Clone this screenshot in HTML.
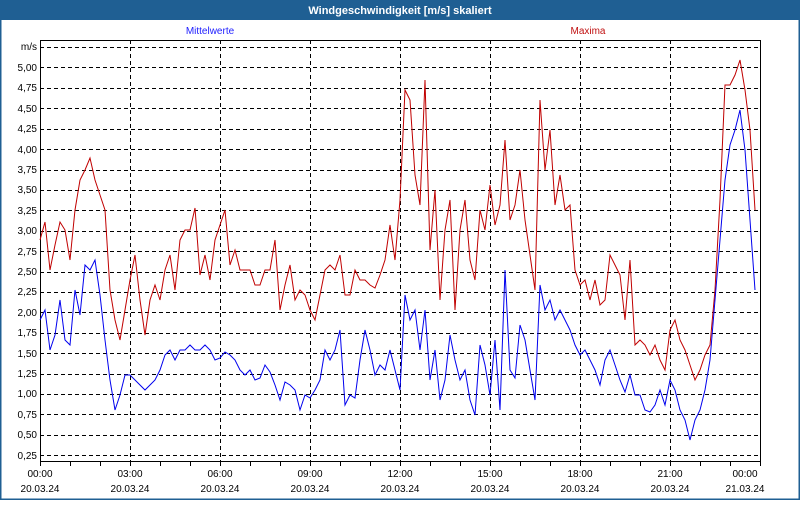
<!DOCTYPE html>
<html><head><meta charset="utf-8"><style>
body{margin:0;width:800px;height:500px;overflow:hidden;background:#fff;font-family:"Liberation Sans",sans-serif}
</style></head><body>
<svg width="800" height="500" xmlns="http://www.w3.org/2000/svg" font-family="Liberation Sans, sans-serif" font-size="10">
<rect x="0" y="0" width="800" height="500" fill="#fff"/>
<rect x="0.5" y="0.5" width="799" height="499" fill="none" stroke="#1f5f93" stroke-width="2"/>
<rect x="0" y="0" width="800" height="20" fill="#1f5f93"/>
<text x="400" y="14" fill="#fff" font-weight="bold" font-size="11" text-anchor="middle">Windgeschwindigkeit [m/s] skaliert</text>
<text x="210" y="34" fill="#2020ff" text-anchor="middle">Mittelwerte</text>
<text x="588" y="34" fill="#c01010" text-anchor="middle">Maxima</text>
<g stroke="#000" stroke-dasharray="4,3" stroke-width="1">
<line x1="40" x2="760" y1="47.5" y2="47.5"/><line x1="40" x2="760" y1="67.5" y2="67.5"/><line x1="40" x2="760" y1="88.5" y2="88.5"/><line x1="40" x2="760" y1="108.5" y2="108.5"/><line x1="40" x2="760" y1="129.5" y2="129.5"/><line x1="40" x2="760" y1="149.5" y2="149.5"/><line x1="40" x2="760" y1="170.5" y2="170.5"/><line x1="40" x2="760" y1="190.5" y2="190.5"/><line x1="40" x2="760" y1="210.5" y2="210.5"/><line x1="40" x2="760" y1="231.5" y2="231.5"/><line x1="40" x2="760" y1="251.5" y2="251.5"/><line x1="40" x2="760" y1="272.5" y2="272.5"/><line x1="40" x2="760" y1="292.5" y2="292.5"/><line x1="40" x2="760" y1="312.5" y2="312.5"/><line x1="40" x2="760" y1="333.5" y2="333.5"/><line x1="40" x2="760" y1="353.5" y2="353.5"/><line x1="40" x2="760" y1="374.5" y2="374.5"/><line x1="40" x2="760" y1="394.5" y2="394.5"/><line x1="40" x2="760" y1="414.5" y2="414.5"/><line x1="40" x2="760" y1="435.5" y2="435.5"/><line x1="40" x2="760" y1="455.5" y2="455.5"/>
<line x1="130.5" x2="130.5" y1="40" y2="461"/><line x1="220.5" x2="220.5" y1="40" y2="461"/><line x1="310.5" x2="310.5" y1="40" y2="461"/><line x1="400.5" x2="400.5" y1="40" y2="461"/><line x1="490.5" x2="490.5" y1="40" y2="461"/><line x1="580.5" x2="580.5" y1="40" y2="461"/><line x1="670.5" x2="670.5" y1="40" y2="461"/>
</g>
<path d="M40.5 40.5H760.5V461.5H40.5Z" fill="none" stroke="#000"/>
<g stroke="#000"><path d="M70.5 461v5M100.5 461v5M130.5 461v5M160.5 461v5M190.5 461v5M220.5 461v5M250.5 461v5M280.5 461v5M310.5 461v5M340.5 461v5M370.5 461v5M400.5 461v5M430.5 461v5M460.5 461v5M490.5 461v5M520.5 461v5M550.5 461v5M580.5 461v5M610.5 461v5M640.5 461v5M670.5 461v5M700.5 461v5M730.5 461v5M40.5 461v5M760.5 461v5"/></g>
<g text-anchor="end" fill="#000">
<text x="37" y="50">m/s</text><text x="37" y="71">5,00</text><text x="37" y="91">4,75</text><text x="37" y="112">4,50</text><text x="37" y="132">4,25</text><text x="37" y="153">4,00</text><text x="37" y="173">3,75</text><text x="37" y="193">3,50</text><text x="37" y="214">3,25</text><text x="37" y="234">3,00</text><text x="37" y="255">2,75</text><text x="37" y="275">2,50</text><text x="37" y="295">2,25</text><text x="37" y="316">2,00</text><text x="37" y="336">1,75</text><text x="37" y="357">1,50</text><text x="37" y="377">1,25</text><text x="37" y="397">1,00</text><text x="37" y="418">0,75</text><text x="37" y="438">0,50</text><text x="37" y="459">0,25</text>
</g>
<g text-anchor="middle" fill="#000">
<text x="40" y="477">00:00</text><text x="40" y="492">20.03.24</text>
<text x="130" y="477">03:00</text><text x="130" y="492">20.03.24</text>
<text x="220" y="477">06:00</text><text x="220" y="492">20.03.24</text>
<text x="310" y="477">09:00</text><text x="310" y="492">20.03.24</text>
<text x="400" y="477">12:00</text><text x="400" y="492">20.03.24</text>
<text x="490" y="477">15:00</text><text x="490" y="492">20.03.24</text>
<text x="580" y="477">18:00</text><text x="580" y="492">20.03.24</text>
<text x="670" y="477">21:00</text><text x="670" y="492">20.03.24</text>
<text x="745" y="477">00:00</text><text x="745" y="492">21.03.24</text>
</g>
<polyline fill="none" stroke="#c00000" stroke-width="1" points="40,240 45,222 50,270 55,245 60,222 65,230 70,260 75,210 80,180 85,170 90,158 95,180 100,195 105,210 110,290 115,320 120,340 125,310 130,280 135,255 140,300 145,335 150,300 155,285 160,300 165,270 170,255 175,290 180,240 185,230 190,230 195,208 200,275 205,255 210,280 215,240 220,225 225,210 230,265 235,250 240,270 245,270 250,270 255,285 260,285 265,270 270,270 275,240 280,310 285,285 290,265 295,300 300,290 305,295 310,310 315,320 320,295 325,270 330,265 335,270 340,255 345,295 350,295 355,270 360,280 365,280 370,285 375,288 380,275 385,260 390,225 395,260 400,200 405,90 410,100 415,175 420,205 425,80 430,250 435,190 440,300 445,230 450,200 455,310 460,230 465,200 470,260 475,280 480,210 485,230 490,185 495,225 500,205 505,140 510,220 515,205 520,170 525,220 530,255 535,290 540,100 545,170 550,130 555,205 560,175 565,210 570,205 575,270 580,285 585,280 590,300 595,280 600,305 605,300 610,255 615,265 620,275 625,320 630,260 635,345 640,340 645,345 650,355 655,345 660,360 665,370 670,330 675,320 680,340 685,350 690,365 695,380 700,370 705,355 710,345 715,290 720,200 725,85 730,85 735,75 740,60 745,90 750,130 755,210"/>
<polyline fill="none" stroke="#0000ee" stroke-width="1" points="40,320 45,310 50,350 55,335 60,300 65,340 70,345 75,290 80,315 85,265 90,270 95,260 100,295 105,340 110,380 115,410 120,395 125,375 130,375 135,380 140,385 145,390 150,385 155,380 160,370 165,355 170,350 175,360 180,350 185,350 190,345 195,350 200,350 205,345 210,350 215,360 220,358 225,352 230,355 235,360 240,370 245,375 250,370 255,380 260,378 265,365 270,372 275,385 280,400 285,382 290,385 295,390 300,410 305,395 310,398 315,390 320,380 325,350 330,360 335,350 340,330 345,405 350,395 355,398 360,360 365,330 370,350 375,375 380,365 385,370 390,350 395,370 400,390 405,295 410,320 415,310 420,350 425,310 430,380 435,350 440,400 445,380 450,335 455,360 460,380 465,370 470,400 475,415 480,345 485,365 490,395 495,340 500,410 505,270 510,370 515,378 520,325 525,340 530,370 535,400 540,285 545,310 550,300 555,320 560,310 565,320 570,330 575,345 580,355 585,350 590,360 595,370 600,385 605,360 610,350 615,365 620,380 625,392 630,375 635,395 640,395 645,410 650,412 655,405 660,390 665,405 670,380 675,390 680,410 685,420 690,440 695,420 700,410 705,390 710,360 715,300 720,240 725,180 730,145 735,130 740,110 745,150 750,220 755,290"/>
</svg>
</body></html>
